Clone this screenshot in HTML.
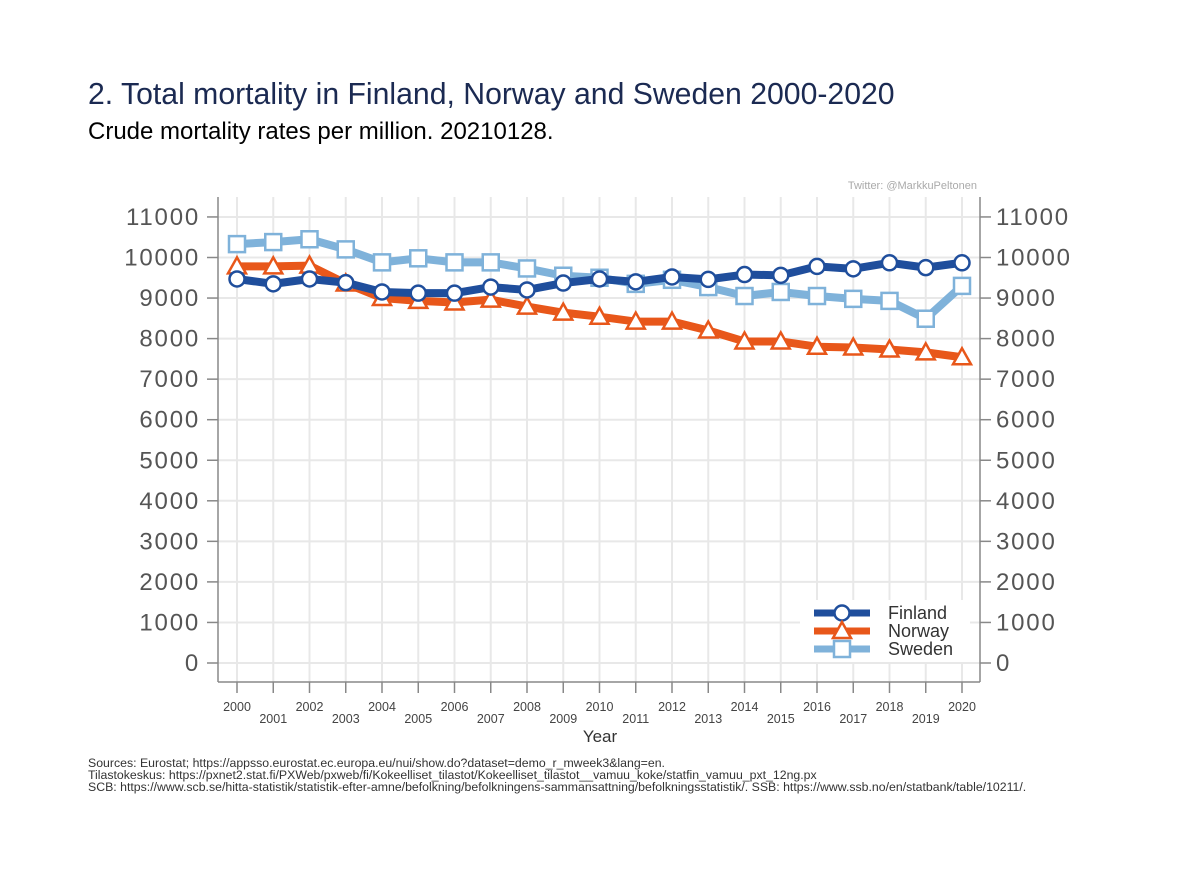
<!DOCTYPE html>
<html><head><meta charset="utf-8"><style>
body{margin:0;background:#fff;width:1200px;height:873px;overflow:hidden;font-family:"Liberation Sans",Arial,sans-serif}
</style></head><body>
<svg width="1200" height="873" xmlns="http://www.w3.org/2000/svg" font-family="Liberation Sans, Arial, sans-serif">
<text x="88" y="104" font-size="30.2" fill="#1b2a52">2. Total mortality in Finland, Norway and Sweden 2000-2020</text>
<text x="88" y="139" font-size="24" fill="#000">Crude mortality rates per million. 20210128.</text>
<text x="977" y="189" font-size="11" fill="#aaa" text-anchor="end">Twitter: @MarkkuPeltonen</text>
<g id="grid"></g><g id="axes"></g><g id="series"></g>
<rect x="800" y="600" width="170" height="62" fill="#fff"/>
<g id="legend"></g>
<text x="600" y="742" font-size="17" fill="#333" text-anchor="middle">Year</text>
<g font-size="12.3" fill="#333">
<text x="88" y="767">Sources: Eurostat; https://appsso.eurostat.ec.europa.eu/nui/show.do?dataset=demo_r_mweek3&amp;lang=en.</text>
<text x="88" y="779">Tilastokeskus: https://pxnet2.stat.fi/PXWeb/pxweb/fi/Kokeelliset_tilastot/Kokeelliset_tilastot__vamuu_koke/statfin_vamuu_pxt_12ng.px</text>
<text x="88" y="791">SCB: https://www.scb.se/hitta-statistik/statistik-efter-amne/befolkning/befolkningens-sammansattning/befolkningsstatistik/. SSB: https://www.ssb.no/en/statbank/table/10211/.</text>
</g>
</svg>
<script>
const years=[2000,2001,2002,2003,2004,2005,2006,2007,2008,2009,2010,2011,2012,2013,2014,2015,2016,2017,2018,2019,2020];
const finland=[9470,9350,9470,9380,9150,9120,9120,9270,9200,9370,9470,9400,9520,9460,9580,9560,9780,9720,9870,9750,9870];
const norway=[9780,9780,9800,9360,9000,8930,8890,8960,8790,8640,8540,8420,8420,8200,7930,7930,7800,7780,7730,7660,7540];
const sweden=[10330,10380,10450,10200,9880,9980,9880,9880,9730,9550,9500,9350,9450,9270,9050,9150,9050,8980,8930,8490,9300];
const yTicks=[0,1000,2000,3000,4000,5000,6000,7000,8000,9000,10000,11000];
const NS="http://www.w3.org/2000/svg";
const xs=y=>237+(y-2000)*36.25;
const ys=v=>663-v*0.04055;
function mk(p,t,a){const e=document.createElementNS(NS,t);for(const k in a)e.setAttribute(k,a[k]);p.appendChild(e);return e;}
const grid=document.getElementById('grid'),axes=document.getElementById('axes'),ser=document.getElementById('series'),leg=document.getElementById('legend');
yTicks.forEach(v=>{const l=mk(grid,'line',{x1:218,x2:980,y1:ys(v),y2:ys(v),stroke:'#e8e8e8','stroke-width':2});


mk(axes,'line',{x1:207,x2:218,y1:ys(v),y2:ys(v),stroke:'#888','stroke-width':1.5});
mk(axes,'line',{x1:980,x2:991,y1:ys(v),y2:ys(v),stroke:'#888','stroke-width':1.5});
const t=mk(axes,'text',{x:200,y:ys(v)+8,'font-size':24,'letter-spacing':1.8,fill:'#555','text-anchor':'end'});t.textContent=v;


const t2=mk(axes,'text',{x:996,y:ys(v)+8,'font-size':24,'letter-spacing':1.8,fill:'#555'});t2.textContent=v;

});
years.forEach((y,i)=>{const l=mk(grid,'line',{x1:xs(y),x2:xs(y),y1:197,y2:682,stroke:'#e8e8e8','stroke-width':2});


mk(axes,'line',{x1:xs(y),x2:xs(y),y1:682,y2:693,stroke:'#888','stroke-width':1.5});
const t=mk(axes,'text',{x:xs(y),y:i%2?723:711,'font-size':12.5,fill:'#444','text-anchor':'middle'});t.textContent=y;

});
mk(axes,'line',{x1:218,x2:218,y1:197,y2:682,stroke:'#888','stroke-width':1.5});
mk(axes,'line',{x1:980,x2:980,y1:197,y2:682,stroke:'#888','stroke-width':1.5});
mk(axes,'line',{x1:218,x2:980,y1:682,y2:682,stroke:'#888','stroke-width':1.5});
function marker(g,type,x,y,c){
 if(type==='circle')return mk(g,'circle',{cx:x,cy:y,r:7.5,fill:'#fff',stroke:c,'stroke-width':2.5});
 if(type==='tri')return mk(g,'polygon',{points:`${x},${y-9} ${x-9},${y+7} ${x+9},${y+7}`,fill:'#fff',stroke:c,'stroke-width':2.5});
 return mk(g,'rect',{x:x-8,y:y-8,width:16,height:16,fill:'#fff',stroke:c,'stroke-width':2.5});}
const series=[['sweden',sweden,'#7fb2da','sq','Sweden'],['norway',norway,'#e8571a','tri','Norway'],['finland',finland,'#1f4e9c','circle','Finland']];
series.forEach(([n,d,c,m])=>{const g=mk(ser,'g',{});


const p=mk(g,'polyline',{points:d.map((v,i)=>xs(years[i])+','+ys(v)).join(' '),fill:'none',stroke:c,'stroke-width':8,'stroke-linejoin':'round'});


d.forEach((v,i)=>{const e=marker(g,m,xs(years[i]),ys(v),c);

});});
[['#1f4e9c','circle','Finland',613],['#e8571a','tri','Norway',631],['#7fb2da','sq','Sweden',649]].forEach(([c,m,l,y])=>{
const g=mk(leg,'g',{});


mk(g,'line',{x1:814,x2:870,y1:y,y2:y,stroke:c,'stroke-width':7});
marker(g,m,842,y,c);
const t=mk(g,'text',{x:888,y:y+6,'font-size':18,fill:'#333'});t.textContent=l;});
</script>
</body></html>
